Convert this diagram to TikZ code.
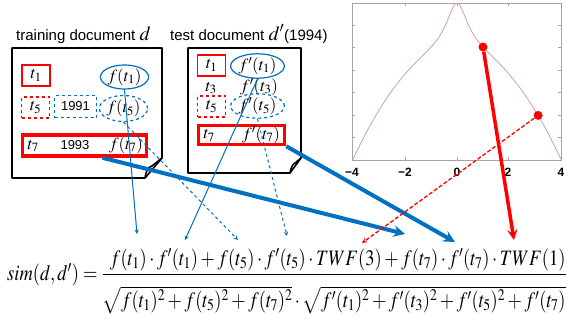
\documentclass[tikz,border=0pt]{standalone}
\usepackage{amsmath}
\usepackage{mathptmx}
\usepackage{graphicx}
\usepackage{fontspec}
\setmainfont{Liberation Serif}
\setsansfont{Liberation Sans}
\usepackage{tikz}
\usetikzlibrary{shapes.geometric, arrows, positioning, calc}
\definecolor{DocBlue}{RGB}{0, 112, 192}
\definecolor{HitRed}{RGB}{255, 0, 0}
\definecolor{CurveRose}{RGB}{205, 170, 175}
\definecolor{FrameGray}{RGB}{165, 165, 165}

\begin{document}
\begin{tikzpicture}[
    x=1pt, y=-1pt,
    term/.style={rectangle, draw=HitRed, line width=1.2pt, minimum width=28pt,
                 minimum height=21pt, inner sep=0pt, font=\fontsize{17}{17}\selectfont},
    termdash/.style={term, dashed},
    weight/.style={ellipse, draw=DocBlue, line width=1.2pt, minimum width=45pt,
                   minimum height=23pt, inner sep=0pt, font=\fontsize{17}{17}\selectfont},
    weightdash/.style={weight, dashed},
    plain/.style={inner sep=0pt, font=\fontsize{17}{17}\selectfont},
    year/.style={inner sep=0pt, font=\sffamily\fontsize{13}{13}\selectfont},
    yearbox/.style={year, rectangle, draw=DocBlue, dashed, line width=1.2pt,
                    minimum width=42pt, minimum height=22pt},
    hit/.style={rectangle, draw=HitRed, line width=3.5pt, inner sep=0pt},
    doc/.style={draw=black, line width=1.6pt, line join=round},
    title/.style={anchor=base west, inner sep=0pt, font=\sffamily\fontsize{15}{15}\selectfont},
    frame/.style={draw=FrameGray, line width=0.8pt},
    ticklabel/.style={inner sep=0pt, font=\sffamily\bfseries\fontsize{12}{12}\selectfont},
    arrow/.style={->, >=stealth, line width=1pt, color=DocBlue},
    dasharrow/.style={arrow, dashed},
    bigarrow/.style={->, >=stealth, line width=4pt, color=DocBlue},
    redarrow/.style={->, >=stealth, line width=3.5pt, color=HitRed},
    reddash/.style={->, >=stealth, line width=1.3pt, color=HitRed, dash pattern=on 4pt off 2pt},
    dot/.style={circle, fill=HitRed, inner sep=0pt, minimum size=9pt}
]
\useasboundingbox (0,0) rectangle (566,327);

% document titles
\node[title] (dtitle) at (16,40) {training document \fontsize{20}{20}\selectfont$d$};
\node[title] (qtitle) at (170,40) {test document \fontsize{20}{20}\selectfont$d'$\fontsize{15}{15}\selectfont(1994)};

% training document
\draw[doc] (12,48) -- (162,48) -- (162,158) -- (145,178) -- (12,178) -- cycle;
\draw[doc] (145,178) .. controls (146,171) and (148,167) .. (152,166) -- (162,158);
\node[term] (t1) at (36,75.5) {$t_1$};
\node[weight] (ft1) at (124.5,77) {$f(t_1)$};
\node[termdash] (t5) at (35.5,107.5) {$t_5$};
\node[yearbox] (y1991) at (75.5,106.5) {1991};
\node[weightdash, minimum width=46pt, minimum height=26pt] (ft5) at (123.5,108.5) {$f(t_5)$};
\node[hit, minimum width=124pt, minimum height=21pt] (row7) at (84.5,145.5) {};
\node[plain] (t7) at (33,146) {$t_7$};
\node[year] (y1993) at (75,145) {1993};
\node[plain] (ft7) at (126,145) {$f(t_7)$};

% test document
\draw[doc] (188,48) -- (301,48) -- (301,158) -- (290,173) -- (188,173) -- cycle;
\draw[doc] (290,173) .. controls (291,167) and (293,164) .. (295,163) -- (301,158);
\node[term] (tt1) at (211.5,65.5) {$t_1$};
\node[weight] (gt1) at (257.5,66) {$f'(t_1)$};
\node[plain] (tt3) at (211,88) {$t_3$};
\node[plain] (gt3) at (259,87) {$f'(t_3)$};
\node[termdash] (tt5) at (211.5,106.5) {$t_5$};
\node[weightdash] (gt5) at (257.5,106) {$f'(t_5)$};
\node[hit, minimum width=86pt, minimum height=19pt] (trow7) at (241.5,135) {};
\node[plain] (tt7) at (209,135.5) {$t_7$};
\node[plain] (gt7) at (261,135) {$f'(t_7)$};

% time weighting function
\draw[frame] (352,3) rectangle (561,160);
\foreach \k in {1,...,6} {
  \draw[frame] (352,{3+22.43*\k}) -- ++(3,0);
  \draw[frame] (561,{3+22.43*\k}) -- ++(-3,0);
}
\foreach \tx in {405,457,508} {
  \draw[frame] (\tx,3) -- ++(0,3);
  \draw[frame] (\tx,160) -- ++(0,-3);
}
\foreach \v/\tx [count=\i] in {−4/352, −2/405, 0/457, 2/508, 4/561}
  \node[ticklabel] (tick\i) at (\tx,172) {\v};
\draw[CurveRose, line width=0.9pt] plot[domain=-4:4, samples=161, smooth]
  ({457+26*\x}, {160-(111*(1-\x*\x/16)+46/(1+(\x/0.49)*(\x/0.49)))});
\node[dot] (peakdot) at (483,47) {};
\node[dot] (taildot) at (538.1,115.4) {};

% similarity
\node[anchor=base west, inner sep=0pt, font=\fontsize{22}{26}\selectfont] (sim) at (7,280)
  {\scalebox{0.84}[1]{$sim(d,d')=\dfrac{f(t_1)\cdot f'(t_1)+f(t_5)\cdot f'(t_5)\cdot TWF(3)+f(t_7)\cdot f'(t_7)\cdot TWF(1)}{\rule{0pt}{1.35em}\sqrt{f(t_1)^2+f(t_5)^2+f(t_7)^2}\cdot\sqrt{f'(t_1)^2+f'(t_3)^2+f'(t_5)^2+f'(t_7)^2}}$}};

\coordinate (toF1) at (137,234);
\coordinate (toG1) at (185,240);
\coordinate (toF5) at (238,240);
\coordinate (toG5) at (287,236);
\coordinate (toF7) at (405,234);
\coordinate (toG7) at (455,242);
\coordinate (toW3) at (362,243);
\coordinate (toW1) at (514,240);

\draw[arrow] (ft1.south) -- (toF1);
\draw[arrow] (gt1.south) -- (toG1);
\draw[dasharrow] (ft5.south) -- (toF5);
\draw[dasharrow] (gt5.south) -- (toG5);
\draw[bigarrow] ([xshift=18pt]row7.south) -- (toF7);
\draw[bigarrow] (trow7.south east) -- (toG7);
\draw[reddash] (taildot) -- (toW3);
\draw[redarrow] (peakdot) -- (toW1);

\end{tikzpicture}
\end{document}
